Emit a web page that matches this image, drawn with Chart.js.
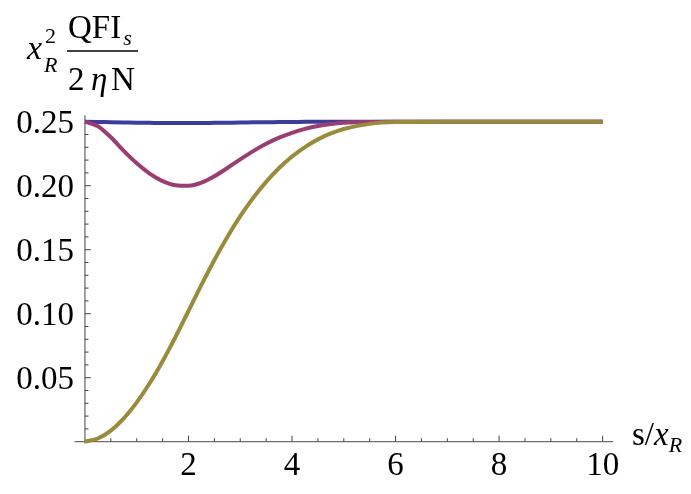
<!DOCTYPE html>
<html>
<head>
<meta charset="utf-8">
<script src="https://cdn.jsdelivr.net/npm/chart.js@4"></script>
<style>
  body { margin: 0; background: #fff; }
  #wrap { width: 691px; height: 494px; }
</style>
</head>
<body>
<div id="wrap"><canvas id="qfiChart" width="691" height="494"></canvas></div>
<script>
// valeurs
const xVals = [0, 0.25, 0.5, 0.75, 1, 1.25, 1.5, 1.75, 2, 2.25, 2.5, 2.75, 3, 3.25, 3.5, 3.75, 4, 4.25, 4.5, 4.75, 5, 5.5, 6, 7, 8, 9, 10];
const blueVals = [0.25, 0.2498, 0.2496, 0.2494, 0.2492, 0.2491, 0.249, 0.249, 0.249, 0.249, 0.2491, 0.2492, 0.2493, 0.2495, 0.2496, 0.2497, 0.2498, 0.2499, 0.25, 0.25, 0.25, 0.25, 0.25, 0.25, 0.25, 0.25, 0.25];
const purpleVals = [0.25, 0.2465, 0.2378, 0.2272, 0.2175, 0.2095, 0.2036, 0.2004, 0.2, 0.2024, 0.2074, 0.2138, 0.2206, 0.2270, 0.2327, 0.2375, 0.2413, 0.2444, 0.2467, 0.2482, 0.2492, 0.2498, 0.25, 0.25, 0.25, 0.25, 0.25];
const oliveVals = [0, 0.0025, 0.0087, 0.0182, 0.0307, 0.0457, 0.0629, 0.0819, 0.1021, 0.1225, 0.142, 0.16, 0.1762, 0.1905, 0.203, 0.2138, 0.2228, 0.2302, 0.2362, 0.2408, 0.2443, 0.2483, 0.2497, 0.25, 0.25, 0.25, 0.25];

const xTickValues = [2, 4, 6, 8, 10];
const xTickLabels = ["2", "4", "6", "8", "10"];
const yTickValues = [0.05, 0.10, 0.15, 0.20, 0.25];
const yTickLabels = ["0.05", "0.10", "0.15", "0.20", "0.25"];

function points(ys) {
    return xVals.map((x, i) => ({ x: x, y: ys[i] }));
}

const SERIF = "'Liberation Serif', 'DejaVu Serif', serif";
const AXIS = "#6e6e6e";

// axes à la Mathematica (croisés à l'origine, graduations vers l'intérieur)
const axesPlugin = {
    id: "axesMma",
    beforeDatasetsDraw(chart) {
        const ctx = chart.ctx;
        const xs = chart.scales.x, ys = chart.scales.y;
        const area = chart.chartArea;
        const x0 = xs.getPixelForValue(0);
        const y0 = ys.getPixelForValue(0);
        ctx.save();
        ctx.strokeStyle = AXIS;
        ctx.lineWidth = 1.3;
        ctx.beginPath();
        ctx.moveTo(area.left, y0);
        ctx.lineTo(area.right, y0);
        ctx.moveTo(x0, y0 + 1.5);
        ctx.lineTo(x0, ys.getPixelForValue(ys.max));
        ctx.stroke();

        // graduations x
        ctx.lineWidth = 1;
        ctx.strokeStyle = "#444";
        ctx.beginPath();
        for (let k = 1; k <= 20; k++) {
            const v = k * 0.5;
            const px = xs.getPixelForValue(v);
            const len = (k % 4 === 0) ? 6 : 3.5;
            ctx.moveTo(px, y0);
            ctx.lineTo(px, y0 - len);
        }
        // graduations y
        for (let k = 1; k <= 25; k++) {
            const v = k * 0.01;
            const py = ys.getPixelForValue(v);
            const len = (k % 5 === 0) ? 6 : 3.5;
            ctx.moveTo(x0, py);
            ctx.lineTo(x0 + len, py);
        }
        ctx.stroke();

        ctx.fillStyle = "#000";
        ctx.font = "33px " + SERIF;
        ctx.textBaseline = "alphabetic";
        ctx.textAlign = "center";
        xTickValues.forEach((v, i) => {
            ctx.fillText(xTickLabels[i], xs.getPixelForValue(v), 475);
        });
        ctx.textAlign = "right";
        yTickValues.forEach((v, i) => {
            ctx.fillText(yTickLabels[i], x0 - 11, ys.getPixelForValue(v) + 11);
        });

        // titre de l'axe x : s/x_R
        ctx.textAlign = "left";
        ctx.fillText("s/", 632, 445);
        let w = ctx.measureText("s/").width;
        ctx.font = "italic 33px " + SERIF;
        ctx.fillText("x", 632 + w, 445);
        w += ctx.measureText("x").width;
        ctx.font = "italic 22px " + SERIF;
        ctx.fillText("R", 632 + w, 452);

        // titre de l'axe y : x_R^2 QFI_s / (2 eta N)
        ctx.font = "italic 34px " + SERIF;
        ctx.fillText("x", 27, 59);
        ctx.font = "22px " + SERIF;
        ctx.fillText("2", 45, 43);
        ctx.font = "italic 22px " + SERIF;
        ctx.fillText("R", 44, 72);
        ctx.font = "33px " + SERIF;
        ctx.fillText("QFI", 68, 38);
        const qw = ctx.measureText("QFI").width;
        ctx.font = "italic 22px " + SERIF;
        ctx.fillText("s", 68 + qw + 2, 45);
        ctx.strokeStyle = "#000";
        ctx.lineWidth = 1.4;
        ctx.beginPath();
        ctx.moveTo(67, 51);
        ctx.lineTo(138, 51);
        ctx.stroke();
        ctx.font = "33px " + SERIF;
        ctx.fillText("2", 68, 90);
        ctx.font = "italic 33px " + SERIF;
        ctx.fillText("η", 91, 90);
        ctx.font = "33px " + SERIF;
        ctx.fillText("N", 111, 90);
        ctx.restore();
    }
};

const ctx = document.getElementById("qfiChart");

new Chart(ctx, {
    type: "line",
    data: {
        datasets: [
            { label: "bleu", data: points(blueVals), borderColor: "#3c3c9c", order: 2 },
            { label: "violet", data: points(purpleVals), borderColor: "#9a3d72", order: 1 },
            { label: "olive", data: points(oliveVals), borderColor: "#9a8a3c", order: 0 }
        ]
    },
    options: {
        responsive: false,
        animation: false,
        devicePixelRatio: 1,
        layout: { padding: { left: 74.6, right: 78, top: 115.3, bottom: 45.9 } },
        elements: {
            point: { radius: 0 },
            line: { borderWidth: 4, cubicInterpolationMode: "monotone", fill: false }
        },
        plugins: { legend: { display: false }, tooltip: { enabled: false } },
        scales: {
            x: { type: "linear", min: -0.2, max: 10.2, display: false },
            y: { type: "linear", min: -0.005, max: 0.255, display: false }
        }
    },
    plugins: [axesPlugin]
});
</script>
</body>
</html>
